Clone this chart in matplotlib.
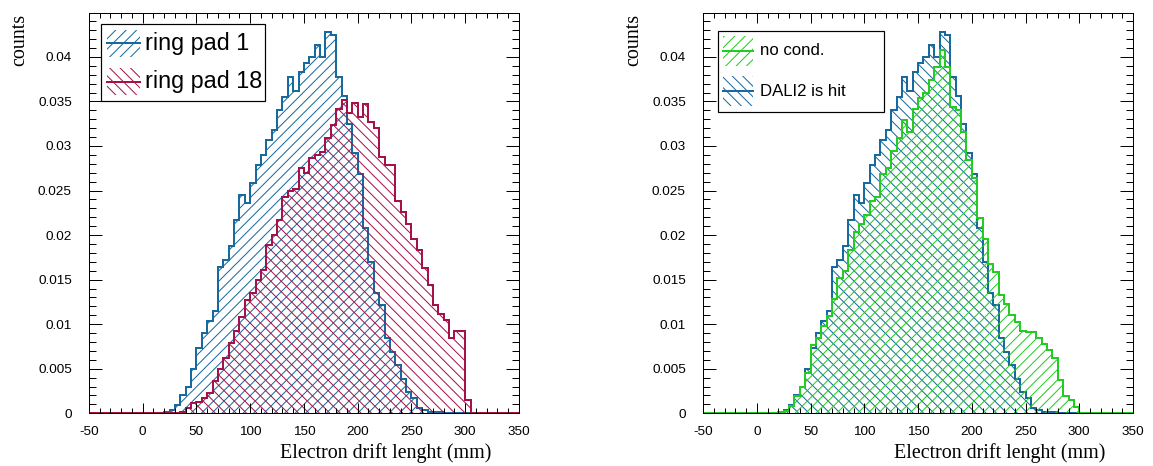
import numpy as np
import matplotlib.pyplot as plt
from matplotlib.patches import Rectangle
from matplotlib.lines import Line2D
from matplotlib.ticker import MultipleLocator, FuncFormatter

W, H, DPI = 1153, 466, 125


def pt(px):
    # pixel size -> points at the chosen dpi
    return px * 72.0 / DPI


# 5 mm bins, -50 .. 350 mm
edges = np.arange(-50, 351, 5)

# lower edge (mm) of the first filled bin, then the bin contents
pad1_start = 20
ring_pad1 = [0.0002, 0.0004, 0.0009, 0.0021, 0.0030, 0.0050, 0.0073, 0.0090,
             0.0104, 0.0115, 0.0164, 0.0172, 0.0188, 0.0217, 0.0245, 0.0236,
             0.0258, 0.0279, 0.0290, 0.0307, 0.0318, 0.0340, 0.0355, 0.0378,
             0.0362, 0.0383, 0.0393, 0.0400, 0.0413, 0.0400, 0.0428, 0.0425,
             0.0378, 0.0356, 0.0325, 0.0292, 0.0269, 0.0208, 0.0170, 0.0135,
             0.0122, 0.0084, 0.0069, 0.0054, 0.0039, 0.0024, 0.0017, 0.0006,
             0.0004, 0.0002, 0.0002, 0.0001]

pad18_start = 35
ring_pad18 = [0.0002, 0.0006, 0.0011, 0.0013, 0.0017, 0.0023, 0.0036, 0.0050,
              0.0062, 0.0079, 0.0092, 0.0108, 0.0127, 0.0135, 0.0150, 0.0161,
              0.0189, 0.0200, 0.0217, 0.0243, 0.0250, 0.0252, 0.0275, 0.0270,
              0.0287, 0.0290, 0.0293, 0.0309, 0.0324, 0.0341, 0.0352, 0.0337,
              0.0348, 0.0333, 0.0347, 0.0327, 0.0320, 0.0288, 0.0279, 0.0279,
              0.0238, 0.0226, 0.0213, 0.0196, 0.0183, 0.0163, 0.0144, 0.0122,
              0.0112, 0.0105, 0.0084, 0.0092, 0.0092, 0.0015]

nocond_start = 20
no_cond = [0.0001, 0.0003, 0.0008, 0.0019, 0.0030, 0.0045, 0.0077, 0.0084,
           0.0098, 0.0109, 0.0128, 0.0152, 0.0160, 0.0183, 0.0204, 0.0213,
           0.0223, 0.0238, 0.0243, 0.0269, 0.0275, 0.0294, 0.0309, 0.0329,
           0.0316, 0.0342, 0.0354, 0.0359, 0.0374, 0.0389, 0.0408, 0.0389,
           0.0344, 0.0340, 0.0316, 0.0284, 0.0264, 0.0219, 0.0196, 0.0168,
           0.0159, 0.0133, 0.0123, 0.0110, 0.0103, 0.0092, 0.0091, 0.0091,
           0.0084, 0.0078, 0.0071, 0.0062, 0.0037, 0.0019, 0.0015, 0.0007]

# the DALI2 histogram reads the same as ring pad 1 in the picture
dali_start = 20
dali2_hit = list(ring_pad1)

BLUE = '#17699e'
RED = '#a5124a'
GREEN = '#22cc22'
FWD = '////'
BWD = '\\\\\\\\'


def full(start, vals):
    h = np.zeros(len(edges) - 1)
    i = int((start - edges[0]) // 5)
    h[i:i + len(vals)] = vals
    return h


def draw_hist(ax, h, color, hatch):
    ax.stairs(h, edges, fill=True, facecolor='none', edgecolor=color,
              hatch=hatch, lw=0)
    ax.stairs(h, edges, color=color, lw=pt(2), clip_on=False)


def fig_xy(x, y):
    return x / W, 1 - y / H


def root_legend(fig, box, entries, size, sym_x, text_x, rows, sym_h):
    x0, y0, x1, y1 = box
    fx, fy = fig_xy(x0, y1)
    fig.add_artist(Rectangle((fx, fy), (x1 - x0) / W, (y1 - y0) / H,
                             transform=fig.transFigure, fc='white',
                             ec='black', lw=pt(1.2), zorder=5))
    for (label, color, hatch), yc in zip(entries, rows):
        sx, sy = fig_xy(sym_x[0], yc + sym_h / 2)
        fig.add_artist(Rectangle((sx, sy), (sym_x[1] - sym_x[0]) / W, sym_h / H,
                                 transform=fig.transFigure, fill=False,
                                 ec=color, hatch=hatch, lw=0, zorder=6))
        lx0, ly = fig_xy(sym_x[0], yc)
        lx1, _ = fig_xy(sym_x[1], yc)
        fig.add_artist(Line2D([lx0, lx1], [ly, ly], transform=fig.transFigure,
                              color=color, lw=pt(2), zorder=7))
        tx, ty = fig_xy(text_x, yc)
        fig.text(tx, ty, label, ha='left', va='center', fontsize=pt(size),
                 color='black', zorder=7)


plt.rcParams['font.family'] = ['Liberation Sans', 'DejaVu Sans']
plt.rcParams['hatch.linewidth'] = pt(1.0)

fig = plt.figure(figsize=(W / DPI, H / DPI), dpi=DPI)
ax1 = fig.add_axes([88.9 / W, 52.7 / H, 430 / W, 400 / H])
ax2 = fig.add_axes([703 / W, 52.7 / H, 430 / W, 400 / H])

draw_hist(ax1, full(pad1_start, ring_pad1), BLUE, FWD)
draw_hist(ax1, full(pad18_start, ring_pad18), RED, BWD)

draw_hist(ax2, full(dali_start, dali2_hit), BLUE, BWD)
draw_hist(ax2, full(nocond_start, no_cond), GREEN, FWD)

fmt = FuncFormatter(lambda v, p: f'{v:g}')
for ax in (ax1, ax2):
    ax.set_xlim(-50, 350)
    ax.set_ylim(0, 400 / 8910)
    ax.xaxis.set_major_locator(MultipleLocator(50))
    ax.xaxis.set_minor_locator(MultipleLocator(10))
    ax.yaxis.set_major_locator(MultipleLocator(0.005))
    ax.yaxis.set_minor_locator(MultipleLocator(0.001))
    ax.xaxis.set_major_formatter(fmt)
    ax.yaxis.set_major_formatter(fmt)
    ax.tick_params(which='both', direction='in', top=True, right=True,
                   width=pt(1), labelsize=pt(13.5))
    ax.tick_params(axis='x', which='major', length=pt(10), pad=pt(13))
    ax.tick_params(axis='x', which='minor', length=pt(5))
    ax.tick_params(axis='y', which='major', length=pt(13), pad=pt(17))
    ax.tick_params(axis='y', which='minor', length=pt(7))
    for s in ax.spines.values():
        s.set_linewidth(pt(1))
        s.set_zorder(4)
    ax.text(0.935, -0.099, 'Electron drift lenght (mm)', transform=ax.transAxes,
            ha='right', va='center', fontsize=pt(20), family='Liberation Serif')
    ax.text(-0.160, 0.998, 'counts', transform=ax.transAxes, rotation=90,
            ha='center', va='top', fontsize=pt(20), family='Liberation Serif')

root_legend(fig, (100.7, 24, 265, 100.7),
            [('ring pad 1', BLUE, FWD), ('ring pad 18', RED, BWD)],
            23.4, (106.7, 140), 145, (43.3, 81.7), 27)
root_legend(fig, (718.3, 30.7, 884.3, 111.7),
            [('no cond.', GREEN, FWD), ('DALI2 is hit', BLUE, BWD)],
            16.8, (723.3, 753.3), 760, (50.7, 91), 30)

fig.savefig('out.png', dpi=DPI)
